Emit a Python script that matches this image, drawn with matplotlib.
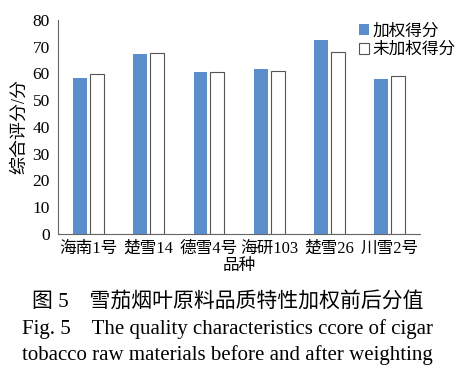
import matplotlib.pyplot as plt
import numpy as np

# 品种与得分
varieties = ['海南1号', '楚雪14', '德雪4号', '海研103', '楚雪26', '川雪2号']
weighted = [58.3, 67.1, 60.6, 61.7, 72.6, 58.1]
unweighted = [59.8, 67.8, 60.4, 60.8, 68.2, 58.9]
yticks = [0, 10, 20, 30, 40, 50, 60, 70, 80]

serif_cjk = ['Liberation Serif', 'Noto Sans CJK SC']
plt.rcParams['font.family'] = serif_cjk

fig = plt.figure(figsize=(4.55, 3.7), dpi=100)
ax = fig.add_axes([0.128, 0.368, 0.795, 0.578])

x = np.arange(len(varieties))
w = 0.23
ax.bar(x - 0.14, weighted, w, color='#5b8fcb', label='加权得分')
ax.bar(x + 0.14, unweighted, w, color='white', edgecolor='#555555', linewidth=0.8, label='未加权得分')

ax.set_xlim(-0.5, len(varieties) - 0.5)
ax.set_ylim(0, 80)
ax.set_yticks(yticks)
ax.set_xticks(x)
ax.set_xticklabels(varieties, fontsize=12)
ax.tick_params(axis='y', labelsize=12.5, length=0, pad=6)
ax.tick_params(axis='x', length=0, pad=5)
for s in ['top', 'right']:
    ax.spines[s].set_visible(False)
for s in ['left', 'bottom']:
    ax.spines[s].set_color('#666666')
    ax.spines[s].set_linewidth(0.8)

ax.set_ylabel('综合评分/分', fontsize=13, labelpad=3)
ax.set_xlabel('品种', fontsize=12, labelpad=1)

ax.legend(loc='upper right', bbox_to_anchor=(1.125, 1.035), frameon=False,
          prop={'family': 'Noto Sans CJK SC', 'size': 12},
          handlelength=0.6, handleheight=0.6, handletextpad=0.2, labelspacing=0.1,
          borderaxespad=0.2)

fig.text(0.5, 0.185, '图 5　雪茄烟叶原料品质特性加权前后分值', ha='center', va='center', fontsize=15)
fig.text(0.5, 0.112, 'Fig. 5　The quality characteristics ccore of cigar', ha='center', va='center', fontsize=15)
fig.text(0.5, 0.040, 'tobacco raw materials before and after weighting', ha='center', va='center', fontsize=15)

fig.savefig('out.png', dpi=100)
